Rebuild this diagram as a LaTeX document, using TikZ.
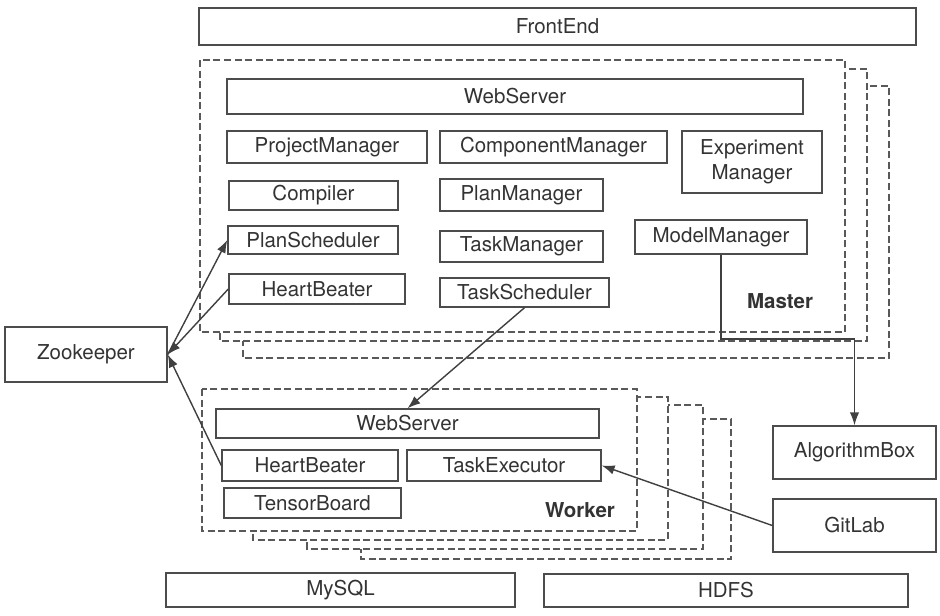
\documentclass[tikz,border=0pt]{standalone}
\usepackage{fontspec}
\setmainfont{TeX Gyre Heros}
\usetikzlibrary{arrows.meta}

\begin{document}
\begin{tikzpicture}[x=0.3mm,y=-0.3mm,
	box/.style={draw=black!70, line width=1.2pt, fill=white, inner sep=0pt, text=black!80, font=\fontsize{17.5}{21}\selectfont},
	dims/.style 2 args={minimum width=#1*0.3mm, minimum height=#2*0.3mm},
	group/.style={draw=black!65, line width=1.2pt, dash pattern=on 6pt off 3pt, fill=white},
	tag/.style={font=\fontsize{17.5}{21}\selectfont\bfseries, text=black!80},
	link/.style={draw=black!75, line width=1.2pt, -{Latex[length=11pt,width=8pt]}}]
	\useasboundingbox (0,0) rectangle (940,615);
	%top
	\node[box, dims={717}{37}] (frontend) at (557.5,26.5) {FrontEnd};
	%master copies
	\draw[group] (243,86) rectangle (889,358);
	\draw[group] (220,69) rectangle (867,341);
	\draw[group] (200,60) rectangle (845,332);
	\node[box, dims={576}{35}] (mweb) at (515,96.5) {WebServer};
	\node[box, dims={200}{32}] (project) at (327,147) {ProjectManager};
	\node[box, dims={227}{32}] (component) at (553.5,147) {ComponentManager};
	\node[box, dims={140}{62}, align=center] (experiment) at (752,162) {Experiment\\Manager};
	\node[box, dims={169}{29}] (compiler) at (313.5,195.5) {Compiler};
	\node[box, dims={163}{32}] (planmgr) at (521.5,195) {PlanManager};
	\node[box, dims={170}{28}] (plansched) at (313,240) {PlanScheduler};
	\node[box, dims={163}{31}] (taskmgr) at (521.5,246.5) {TaskManager};
	\node[box, dims={172}{34}] (model) at (721,237) {ModelManager};
	\node[box, dims={176}{30}] (mbeat) at (317,289) {HeartBeater};
	\node[box, dims={169}{29}] (tasksched) at (524.5,292.5) {TaskScheduler};
	\node[tag] (master) at (780,301) {Master};
	%worker copies
	\draw[group] (361,419) rectangle (731,559);
	\draw[group] (307,405) rectangle (703,549);
	\draw[group] (253,397) rectangle (668,540);
	\draw[group] (202,389) rectangle (637,531);
	\node[box, dims={383}{29}] (wweb) at (407.5,423.5) {WebServer};
	\node[box, dims={176}{31}] (wbeat) at (310,465.5) {HeartBeater};
	\node[box, dims={194}{31}] (executor) at (504,465.5) {TaskExecutor};
	\node[box, dims={177}{30}] (tensor) at (312.5,503) {TensorBoard};
	\node[tag] (worker) at (580,510) {Worker};
	%outside
	\node[box, dims={162}{55}] (zk) at (86,354.5) {Zookeeper};
	\node[box, dims={163}{53}] (algo) at (854.5,452.5) {AlgorithmBox};
	\node[box, dims={163}{53}] (gitlab) at (854.5,525.5) {GitLab};
	\node[box, dims={349}{34}] (mysql) at (340.5,590) {MySQL};
	\node[box, dims={364}{33}] (hdfs) at (726,590.5) {HDFS};
	%arrows
	\coordinate (turn) at (854.5,339);
	\draw[link] (zk.east) -- (plansched.west);
	\draw[link] (mbeat.west) -- (zk.east);
	\draw[link] (wbeat.west) -- (zk.east);
	\draw[link] (tasksched.south) -- (wweb.north);
	\draw[link] (gitlab.west) -- (executor.east);
	\draw[link] (model.south) |- (turn) -- (algo.north);
\end{tikzpicture}
\end{document}
